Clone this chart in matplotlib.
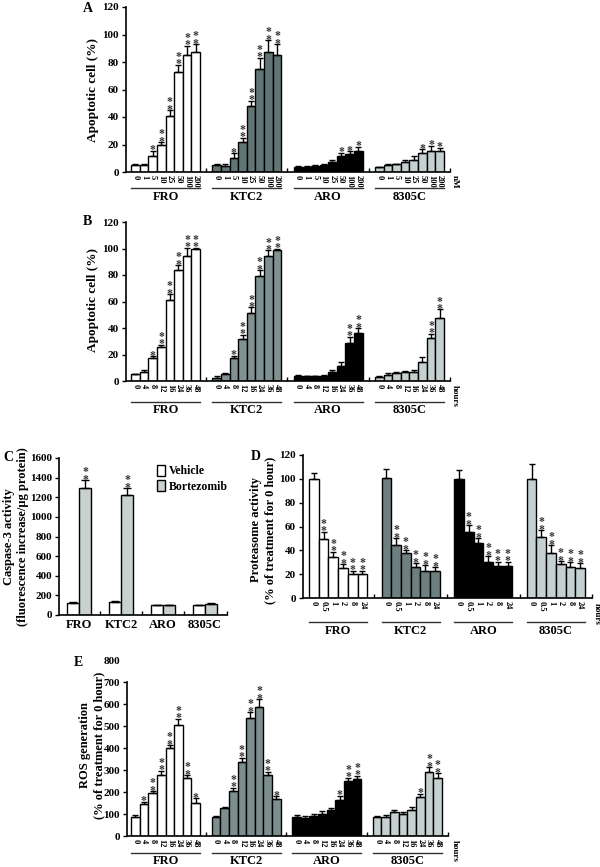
import numpy as np
import matplotlib
matplotlib.use('Agg')
import matplotlib.pyplot as plt
from matplotlib.patches import Patch
from matplotlib.transforms import blended_transform_factory

plt.rcParams['font.family'] = ['Liberation Serif', 'DejaVu Serif']
plt.rcParams['font.weight'] = 'bold'

W, H = 600, 867

cells = ['FRO', 'KTC2', 'ARO', '8305C']
doses_nm = ['0', '1', '5', '10', '25', '50', '100', '200']
hours_long = ['0', '4', '8', '12', '16', '24', '36', '48']
hours_short = ['0', '0.5', '1', '2', '8', '24']

# A: apoptosis vs dose
a_values = [[5, 5, 12, 20, 41, 73, 85, 87],
            [5, 4.5, 10, 22, 48, 75, 87, 85],
            [4, 4, 4.5, 5, 7, 12, 13, 15],
            [3.5, 5, 5.5, 7, 9, 14, 15, 15]]
a_errors = [[0.5, 0.5, 3.5, 1.5, 4, 5, 7, 6],
            [1, 1, 3.5, 3, 4, 8, 9, 8],
            [0.5, 0.5, 0.5, 1, 1.5, 2, 2, 3.5],
            [0.5, 0.5, 0.5, 1.5, 2.5, 2.5, 4, 2.5]]
a_stars = [['', '', '*', '**', '**', '**', '**', '**'],
           ['', '', '*', '**', '**', '**', '**', '**'],
           ['', '', '', '', '', '*', '*', '*'],
           ['', '', '', '', '', '*', '*', '*']]

# B: apoptosis vs time
b_values = [[5, 7, 17, 25.5, 61, 83.5, 94, 99.5],
            [2.5, 5, 17, 32, 51.5, 79, 94, 98.5],
            [4, 3.5, 3.5, 4, 7, 11, 29, 36],
            [3, 4.3, 5.8, 6.5, 6.5, 14, 32.7, 47.5]]
b_errors = [[0.5, 1.3, 1.5, 1.8, 4.5, 4, 6.5, 1],
            [1.2, 1, 2, 3, 4, 4.5, 4.5, 1.5],
            [0.5, 0.5, 0.5, 0.5, 1, 3, 4.5, 4],
            [0.8, 1.5, 0.8, 1.3, 1.5, 4, 3, 6.5]]
b_stars = [['', '', '*', '**', '**', '**', '**', '**'],
           ['', '', '*', '**', '**', '**', '**', '**'],
           ['', '', '', '', '', '', '**', '**'],
           ['', '', '', '', '', '', '**', '**']]

# C: caspase-3 activity
c_vehicle = [120, 130, 100, 100]
c_vehicle_err = [8, 8, 5, 5]
c_bortezomib = [1290, 1228, 100, 110]
c_bortezomib_err = [85, 62, 5, 8]
c_stars = ['**', '**', '', '']

# D: proteasome activity
d_values = [[100, 49.7, 34.6, 25, 20.5, 20.5],
            [100.5, 44.6, 37.7, 26.4, 22.6, 22.4],
            [100, 55.8, 46, 30.6, 27, 27],
            [100, 51.5, 37.7, 28.5, 26.4, 25.3]]
d_errors = [[5.3, 6, 4.4, 3.5, 2.5, 2.5],
            [7.5, 5.4, 2.3, 2.6, 5, 3.4],
            [7, 5.1, 4, 4.4, 3.3, 3.6],
            [12.5, 5.5, 6.7, 2.5, 3.6, 3.7]]
d_stars = [['', '**', '**', '**', '**', '**']] * 4

# E: ROS generation
e_values = [[88, 144, 195, 276, 401, 503, 264, 152],
            [88, 126, 205, 338, 535, 588, 277, 168],
            [88, 80, 90, 100, 118, 165, 252, 258],
            [85, 88, 108, 98, 120, 177, 290, 263]]
e_errors = [[6, 11, 8, 21, 12, 30, 12, 20],
            [5, 6, 15, 18, 27, 33, 15, 14],
            [6, 10, 8, 12, 10, 18, 12, 16],
            [5, 6, 8, 10, 11, 15, 23, 23]]
e_stars = [['', '*', '**', '**', '**', '**', '**', '*'],
           ['', '', '**', '**', '**', '**', '**', '*'],
           ['', '', '', '', '', '*', '**', '**'],
           ['', '', '', '', '', '*', '**', '**']]

fig = plt.figure(figsize=(W / 100, H / 100), dpi=100)


def axes_px(x0, y0, x1, y1):
    return fig.add_axes([x0 / W, 1 - y1 / H, (x1 - x0) / W, (y1 - y0) / H])


def fig_text(x, y, s, **kw):
    fig.text(x / W, 1 - y / H, s, **kw)


def put_stars(ax, x, top, s):
    # stacked asterisks sitting just above the error cap
    ax.annotate('\n'.join(s), (x, top), xytext=(0, -4), textcoords='offset points',
                ha='center', va='bottom', fontsize=8.5, linespacing=0.5,
                color='#333333', annotation_clip=False)


def style(ax):
    for side in ['top', 'right']:
        ax.spines[side].set_visible(False)
    for side in ['left', 'bottom']:
        ax.spines[side].set_linewidth(1.2)
    ax.tick_params(axis='y', labelsize=8, length=3, width=1, pad=2)


def draw_groups(ax, values, errors, stars, colors, ticks, pitch, pad_l, pad_r,
                ymax, ystep):
    n = len(ticks)
    centers = []
    for g in range(4):
        x = g * pitch + np.arange(n)
        ax.bar(x, values[g], width=1, align='edge', color=colors[g],
               edgecolor='black', linewidth=1, zorder=2)
        ax.errorbar(x + 0.5, values[g], yerr=[np.zeros(n), errors[g]], fmt='none',
                    ecolor='black', elinewidth=1, capsize=2.3, capthick=1, zorder=3)
        for xi, v, e, s in zip(x, values[g], errors[g], stars[g]):
            if s:
                put_stars(ax, xi + 0.5, v + e, s)
        centers.extend(x + 0.5)
    right = 3 * pitch + n + pad_r
    ax.set_xlim(-pad_l, right)
    ax.set_ylim(0, ymax)
    ax.set_yticks(np.arange(0, ymax + 1, ystep))
    ax.set_xticks(centers)
    ax.set_xticklabels(ticks * 4, rotation=-90)
    bounds = [g * pitch + n + (pitch - n) / 2 for g in range(3)] + [right]
    ax.set_xticks(bounds, minor=True)
    ax.tick_params(axis='x', which='major', length=0, labelsize=6, pad=2)
    ax.tick_params(axis='x', which='minor', direction='in', length=3, width=1)
    style(ax)


def group_lines(ax, pitch, n, y_line, y_text):
    tr = blended_transform_factory(ax.transData, fig.transFigure)
    for g, name in enumerate(cells):
        x0 = g * pitch
        ax.plot([x0, x0 + n], [1 - y_line / H] * 2, transform=tr, clip_on=False,
                color='#333333', lw=1)
        ax.text(x0 + n / 2, 1 - y_text / H, name, transform=tr, ha='center',
                va='center', fontsize=9)


def two_line_label(x1, x2, y, first, second, size=9):
    fig_text(x1, y, first, rotation=90, ha='center', va='center', fontsize=size)
    fig_text(x2, y, second, rotation=90, ha='center', va='center', fontsize=size)


# ---- A ----
ax_a = axes_px(126, 7, 450, 172)
draw_groups(ax_a, a_values, a_errors, a_stars,
            ['white', '#627575', 'black', '#c5d0d0'], doses_nm,
            9.42, 0.58, 0.7, 120, 20)
group_lines(ax_a, 9.42, 8, 188, 197)
fig_text(93, 90, 'Apoptotic cell (%)', rotation=90, ha='center', va='center', fontsize=9.5)
fig_text(83, 8, 'A', ha='left', va='center', fontsize=10)
fig_text(455, 182, 'nM', rotation=-90, ha='center', va='center', fontsize=6.5)

# ---- B ----
ax_b = axes_px(126, 222, 450, 381)
draw_groups(ax_b, b_values, b_errors, b_stars,
            ['white', '#7f9191', 'black', '#c5d0d0'], hours_long,
            9.42, 0.58, 0.7, 120, 20)
group_lines(ax_b, 9.42, 8, 402, 410)
fig_text(93, 300, 'Apoptotic cell (%)', rotation=90, ha='center', va='center', fontsize=9.5)
fig_text(83, 222, 'B', ha='left', va='center', fontsize=10)
fig_text(455, 396, 'hours', rotation=-90, ha='center', va='center', fontsize=6.5)

# ---- C ----
ax_c = axes_px(59, 458, 227, 615)
c_left = 0.67 + 3.5 * np.arange(4)
ax_c.bar(c_left, c_vehicle, width=1, align='edge', color='white',
         edgecolor='black', linewidth=1, zorder=2)
ax_c.bar(c_left + 1, c_bortezomib, width=1, align='edge', color='#c8d0d0',
         edgecolor='black', linewidth=1, zorder=2)
ax_c.errorbar(c_left + 0.5, c_vehicle, yerr=[np.zeros(4), c_vehicle_err], fmt='none',
              ecolor='black', elinewidth=1, capsize=3, capthick=1, zorder=3)
ax_c.errorbar(c_left + 1.5, c_bortezomib, yerr=[np.zeros(4), c_bortezomib_err], fmt='none',
              ecolor='black', elinewidth=1, capsize=3, capthick=1, zorder=3)
for xl, v, e, s in zip(c_left, c_bortezomib, c_bortezomib_err, c_stars):
    if s:
        put_stars(ax_c, xl + 1.5, v + e, s)
ax_c.set_xlim(0, 14)
ax_c.set_ylim(0, 1600)
ax_c.set_yticks(np.arange(0, 1601, 200))
ax_c.set_xticks(c_left + 1)
ax_c.set_xticklabels(cells)
ax_c.set_xticks([3.42, 6.92, 10.42, 14], minor=True)
ax_c.tick_params(axis='x', which='major', length=0, labelsize=9, pad=3)
ax_c.tick_params(axis='x', which='minor', direction='in', length=3, width=1)
style(ax_c)
ax_c.legend(handles=[Patch(facecolor='white', edgecolor='black', label='Vehicle'),
                     Patch(facecolor='#c8d0d0', edgecolor='black', label='Bortezomib')],
            loc='upper left', bbox_to_anchor=(0.54, 1.0), frameon=False, fontsize=8.5,
            handlelength=0.7, handleheight=1.0, handletextpad=0.3, labelspacing=0.25,
            borderaxespad=0.2)
two_line_label(9, 23, 537, 'Caspase-3 activity', '(fluorescence increase/\u03bcg protein)')
fig_text(3, 458, 'C', ha='left', va='center', fontsize=10)

# ---- D ----
ax_d = axes_px(303, 455, 592, 598)
draw_groups(ax_d, d_values, d_errors, d_stars,
            ['white', '#6e7f7f', 'black', '#c5d0d0'], hours_short,
            7.48, 0.62, 0.72, 120, 20)
group_lines(ax_d, 7.48, 6, 622, 631)
two_line_label(256, 270, 530, 'Proteasome activity', '(% of treatment for 0 hour)')
fig_text(251, 457, 'D', ha='left', va='center', fontsize=10)
fig_text(597, 614, 'hours', rotation=-90, ha='center', va='center', fontsize=6.5)

# ---- E ----
ax_e = axes_px(127, 660, 448, 836)
draw_groups(ax_e, e_values, e_errors, e_stars,
            ['white', '#7d8e8e', 'black', '#c5d0d0'], hours_long,
            9.33, 0.46, 0.7, 800, 100)
ax_e.spines['left'].set_bounds(0, 700)
ax_e.yaxis.get_major_ticks()[-1].tick1line.set_visible(False)
group_lines(ax_e, 9.33, 8, 853, 861)
two_line_label(85, 99, 745, 'ROS generation', '(% of treatment for 0 hour)')
fig_text(74, 662, 'E', ha='left', va='center', fontsize=10)
fig_text(455, 851, 'hours', rotation=-90, ha='center', va='center', fontsize=6.5)

fig.savefig('out.png', dpi=100)
